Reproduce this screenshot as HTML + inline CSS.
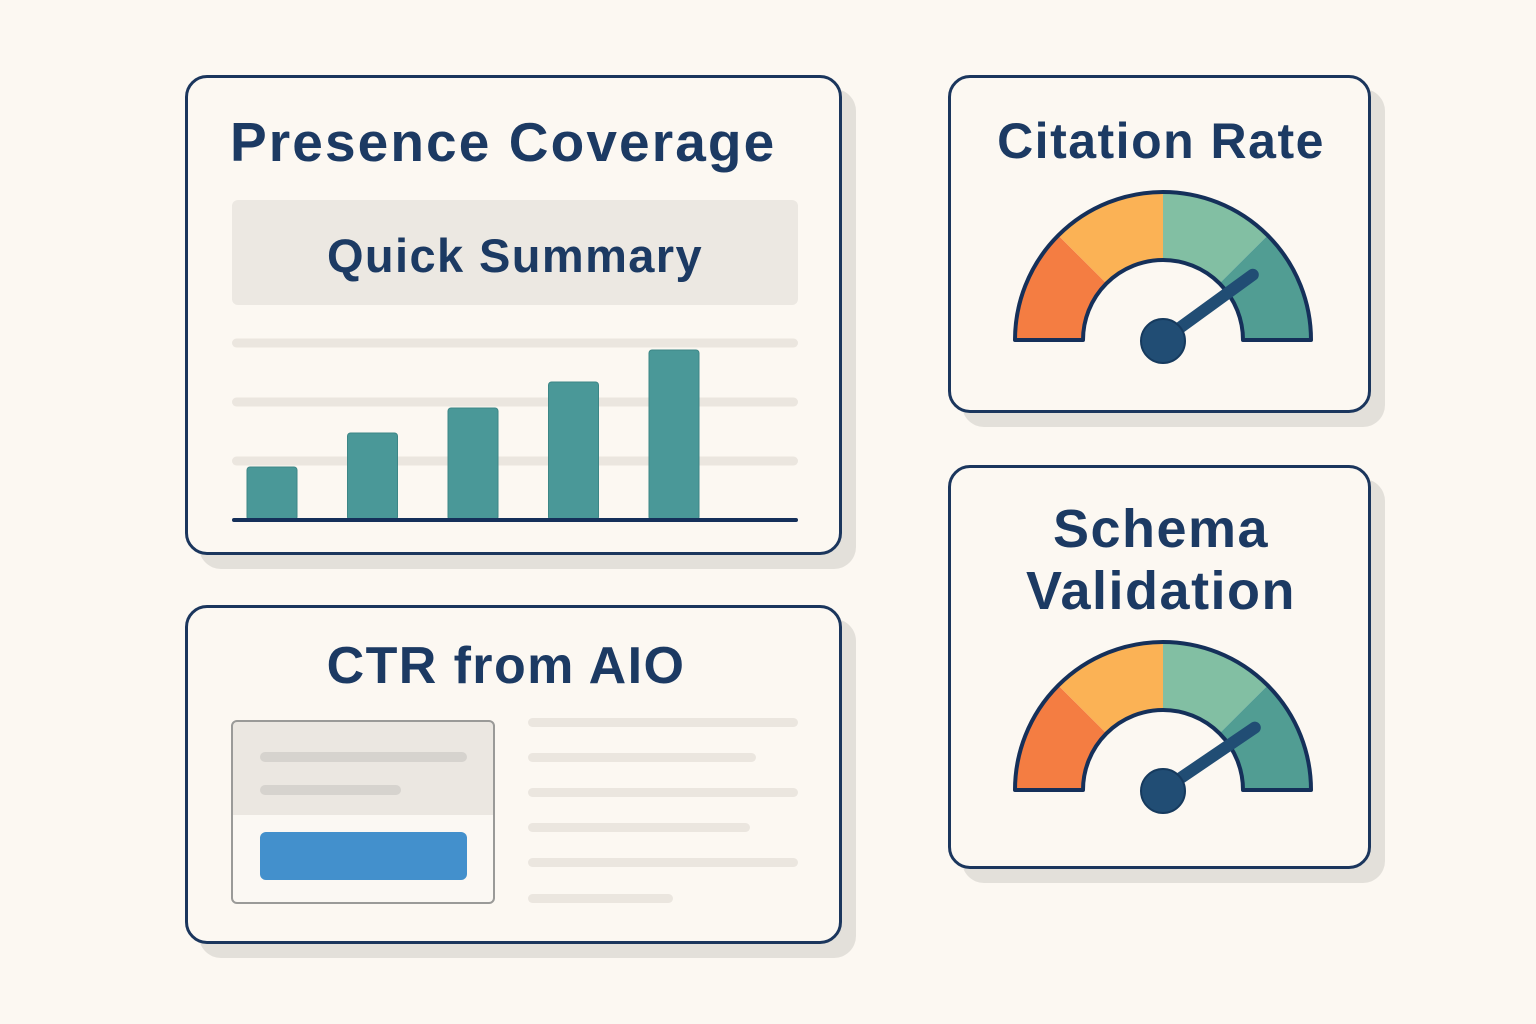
<!DOCTYPE html>
<html><head><meta charset="utf-8"><style>
html,body{margin:0;padding:0;background:#fcf8f2;}
body{width:1536px;height:1024px;position:relative;overflow:hidden;font-family:"Liberation Sans",sans-serif;}
.card{position:absolute;background:#fcf8f2;border:3px solid #1b365d;border-radius:22px;box-shadow:14px 14px 0 #e3e0da;box-sizing:border-box;}
.t{position:absolute;color:#1c3a63;font-weight:bold;white-space:nowrap;}
.ln{position:absolute;height:9px;border-radius:5px;background:#ebe6df;}
</style></head><body>
<div class="card" style="left:185px;top:75px;width:657px;height:480px;"></div>
<div class="t" style="left:230px;top:110px;font-size:55px;letter-spacing:2.1px;">Presence Coverage</div>
<div style="position:absolute;left:232px;top:200px;width:566px;height:105px;background:#ece8e2;border-radius:6px;"></div>
<div class="t" style="left:232px;width:566px;text-align:center;top:228px;font-size:47px;letter-spacing:1.4px;">Quick Summary</div>
<svg id="bars" style="position:absolute;left:0;top:0" width="1536" height="1024"></svg>

<div class="card" style="left:185px;top:605px;width:657px;height:339px;"></div>
<div class="t" style="left:185px;width:642px;text-align:center;top:636px;font-size:52px;letter-spacing:1.4px;">CTR from AIO</div>
<div style="position:absolute;left:231px;top:720px;width:264px;height:184px;border:2px solid #9a9a98;border-radius:6px;box-sizing:border-box;background:linear-gradient(#ebe7e1 0,#ebe7e1 93px,#fbf8f3 93px);"></div>
<div class="ln" style="left:260px;top:752px;width:207px;height:10px;background:#d6d3ce;"></div>
<div class="ln" style="left:260px;top:785px;width:141px;height:10px;background:#d6d3ce;"></div>
<div style="position:absolute;left:260px;top:832px;width:207px;height:48px;background:#4390cc;border-radius:6px;"></div>
<div class="ln" style="left:528px;top:718px;width:270px;"></div>
<div class="ln" style="left:528px;top:753px;width:228px;"></div>
<div class="ln" style="left:528px;top:788px;width:270px;"></div>
<div class="ln" style="left:528px;top:823px;width:222px;"></div>
<div class="ln" style="left:528px;top:858px;width:270px;"></div>
<div class="ln" style="left:528px;top:894px;width:145px;"></div>

<div class="card" style="left:948px;top:75px;width:423px;height:338px;"></div>
<div class="t" style="left:948px;width:426px;text-align:center;top:112px;font-size:50px;letter-spacing:1.5px;">Citation Rate</div>
<div class="card" style="left:948px;top:465px;width:423px;height:404px;"></div>
<div class="t" style="left:948px;width:426px;text-align:center;top:498px;font-size:54px;line-height:62px;letter-spacing:1.5px;">Schema<br>Validation</div>
<svg id="gauges" style="position:absolute;left:0;top:0" width="1536" height="1024"></svg>
<script>
const categories=["P1","P2","P3","P4","P5"];
const barValues=[53,87,112,138,170];
const gaugeNames=["citation-rate-gauge","schema-validation-gauge"];
const gaugeValues=[0.80,0.81];
const NS="http://www.w3.org/2000/svg";
function mk(p,tag,a){const e=document.createElementNS(NS,tag);for(const k in a)e.setAttribute(k,a[k]);p.appendChild(e);return e;}
const bs=document.getElementById('bars');
[343,402,461].forEach((y,i)=>{const g=mk(bs,'rect',{x:232,y:y-4.5,width:566,height:9,rx:4.5,fill:'#ebe6df'});

});
const x0=247,step=100.5,bw=50,base=520;
const xScale=i=>x0+i*step;
const yScale=v=>base-v;
categories.forEach((c,i)=>{const v=barValues[i];const r=mk(bs,'rect',{x:xScale(i),y:yScale(v),width:bw,height:base-yScale(v),rx:3,fill:'#4a9898',stroke:'#3c8686','stroke-width':1});

});
const ax=mk(bs,'line',{x1:234,y1:520,x2:796,y2:520,stroke:'#15305a','stroke-width':4,'stroke-linecap':'round'});


const gs=document.getElementById('gauges');
const cols=['#f47d42','#fbb255','#82bfa3','#519d93'];
function pt(cx,cy,r,a){return [cx+r*Math.cos(a),cy-r*Math.sin(a)];}
function gauge(cx,cy,val,name){const R=148,r=80;const g=mk(gs,'g',{});


for(let k=0;k<4;k++){const a1=Math.PI-k*Math.PI/4,a2=Math.PI-(k+1)*Math.PI/4;const p1=pt(cx,cy,R,a1),p2=pt(cx,cy,R,a2),p3=pt(cx,cy,r,a2),p4=pt(cx,cy,r,a1);
mk(g,'path',{d:`M${p1} A${R},${R} 0 0 1 ${p2} L${p3} A${r},${r} 0 0 0 ${p4}Z`,fill:cols[k]});}
mk(g,'path',{d:`M${cx-R},${cy} A${R},${R} 0 0 1 ${cx+R},${cy} L${cx+r},${cy} A${r},${r} 0 0 0 ${cx-r},${cy}Z`,fill:'none',stroke:'#15305a','stroke-width':4,'stroke-linejoin':'round'});
const a=Math.PI*(1-val);const e=pt(cx,cy,R*0.75,a);
const n=mk(g,'line',{x1:cx,y1:cy,x2:e[0],y2:e[1],stroke:'#214d74','stroke-width':12,'stroke-linecap':'round'});


mk(g,'circle',{cx:cx,cy:cy+1,r:22,fill:'#214d74',stroke:'#163a5e','stroke-width':2});}
gauge(1163,340,gaugeValues[0],gaugeNames[0]);
gauge(1163,790,gaugeValues[1],gaugeNames[1]);
</script>
</body></html>
